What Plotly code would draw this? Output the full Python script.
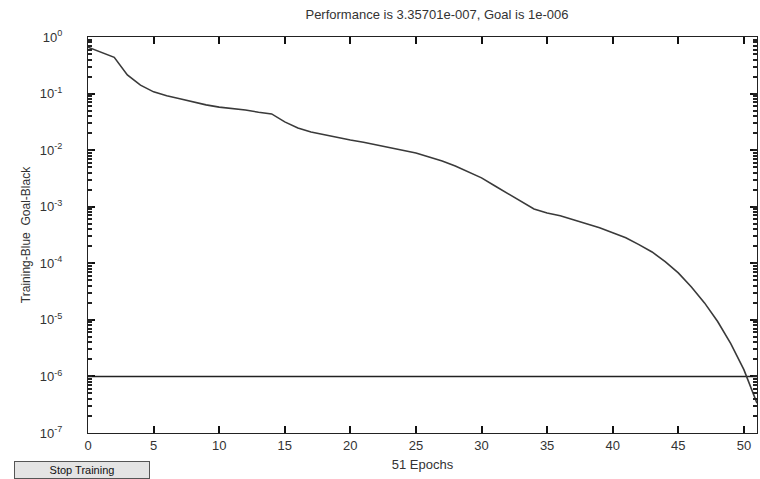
import plotly.graph_objects as go

# Data
epochs = list(range(0, 52))
performance_log10 = [
    -0.18, -0.27, -0.36, -0.67, -0.85, -0.97, -1.04, -1.09, -1.15, -1.20,
    -1.24, -1.26, -1.29, -1.33, -1.36, -1.50, -1.61, -1.68, -1.73, -1.78,
    -1.82, -1.86, -1.91, -1.96, -2.01, -2.05, -2.12, -2.19, -2.28, -2.38,
    -2.49, -2.63, -2.77, -2.91, -3.04, -3.11, -3.16, -3.23, -3.30, -3.37,
    -3.46, -3.55, -3.67, -3.80, -3.97, -4.17, -4.42, -4.70, -5.03, -5.42,
    -5.88, -6.474,
]
performance = [10 ** v for v in performance_log10]
goal = 1e-6
goal_x = [0, 51]
goal_y = [goal, goal]

x_ticks = [0, 5, 10, 15, 20, 25, 30, 35, 40, 45, 50]
y_decades = [0, -1, -2, -3, -4, -5, -6, -7]
y_tickvals = [10.0 ** d for d in y_decades]
y_ticktext = ["10<sup>0</sup>", "10<sup>-1</sup>", "10<sup>-2</sup>", "10<sup>-3</sup>",
              "10<sup>-4</sup>", "10<sup>-5</sup>", "10<sup>-6</sup>", "10<sup>-7</sup>"]

title_text = "Performance is 3.35701e-007, Goal is 1e-006"
xlabel = "51 Epochs"
ylabel = "Training-Blue  Goal-Black"
button_text = "Stop Training"

font_family = "Liberation Sans, Arial, sans-serif"
text_color = "#333333"

fig = go.Figure()
fig.add_trace(go.Scatter(x=goal_x, y=goal_y, mode="lines",
                         line=dict(color="#222222", width=1.6), showlegend=False))
fig.add_trace(go.Scatter(x=epochs, y=performance, mode="lines",
                         line=dict(color="#3a3a3a", width=1.6), showlegend=False))
# invisible trace so the minor-tick overlay axis is drawn
fig.add_trace(go.Scatter(x=goal_x, y=goal_y, yaxis="y2", mode="lines",
                         line=dict(width=0), opacity=0, hoverinfo="skip",
                         showlegend=False))

fig.update_layout(
    template="none",
    width=760, height=479,
    margin=dict(l=88, r=3, t=37, b=46),
    paper_bgcolor="white", plot_bgcolor="white",
    font=dict(family=font_family, size=13, color=text_color),
    title=dict(text=title_text, x=0.575, xanchor="center", y=0.97, yanchor="middle",
               font=dict(size=13, color=text_color)),
    showlegend=False,
    yaxis2=dict(type="log", range=[-7, 0], overlaying="y", side="left",
                dtick="D1", ticks="inside", ticklen=4, tickwidth=1.5, tickcolor="#222",
                showticklabels=False, showgrid=False, zeroline=False,
                showline=True, linecolor="#222", linewidth=1.2, mirror="ticks"),
)
fig.update_xaxes(
    range=[0, 51], tickvals=x_ticks, ticks="inside", ticklen=7, tickwidth=2,
    tickcolor="#111",
    showline=True, linecolor="#222", linewidth=1.2, mirror="ticks",
    showgrid=False, zeroline=False,
    tickfont=dict(size=13, color=text_color),
    title=dict(text=xlabel, standoff=8, font=dict(size=13, color=text_color)),
)
fig.update_layout(yaxis=dict(
    type="log", range=[-7, 0], tickvals=y_tickvals, ticktext=y_ticktext,
    ticks="inside", ticklen=7, tickwidth=2, tickcolor="#111",
    showline=True, linecolor="#222", linewidth=1.2, mirror="ticks",
    showgrid=False, zeroline=False, ticklabelstandoff=22,
    tickfont=dict(size=13, color=text_color),
    title=dict(text=ylabel, standoff=6, font=dict(size=12, color=text_color)),
))

fig.add_annotation(
    text=button_text, xref="paper", yref="paper",
    x=-0.111, y=-0.093, xanchor="left", yanchor="middle", showarrow=False,
    font=dict(size=11, color="#111"), bgcolor="#e4e4e4", bordercolor="#555",
    borderwidth=1, borderpad=2, width=130,
)

fig.write_html("out.html")
